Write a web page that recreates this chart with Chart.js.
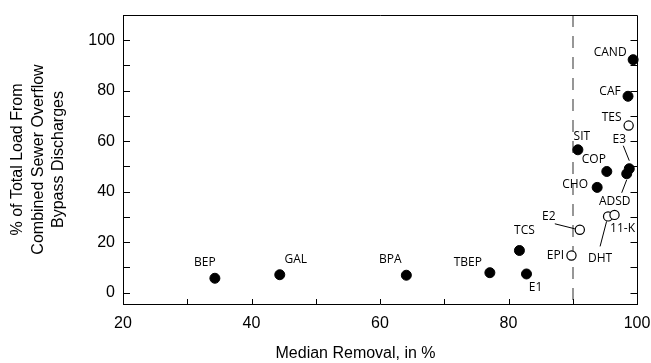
<!DOCTYPE html>
<html>
<head>
<meta charset="utf-8">
<script src="https://cdn.jsdelivr.net/npm/chart.js@4.4.1/dist/chart.umd.min.js"></script>
<style>
    html, body { margin: 0; padding: 0; background: #fff; }
    #wrap { width: 651px; height: 363px; }
</style>
</head>
<body>
<div id="wrap"><canvas id="csoChart"></canvas></div>
<script>
// filled symbols
const filledNames = ['BEP', 'GAL', 'BPA', 'TBEP', 'E1', 'TCS', 'CHO', 'COP', 'ADSD', 'E3', 'SIT', 'CAF', 'CAND'];
const filledRemoval = [34.3, 44.4, 64.1, 77.1, 82.8, 81.7, 93.8, 95.3, 98.4, 98.8, 90.8, 98.6, 99.4];
const filledLoad = [5.7, 7.1, 6.9, 7.9, 7.4, 16.7, 41.7, 48.0, 47.1, 49.1, 56.6, 77.8, 92.3];

// open symbols
const openNames = ['EPI', 'E2', 'DHT', '11-K', 'TES'];
const openRemoval = [89.8, 91.1, 95.5, 96.5, 98.7];
const openLoad = [14.7, 24.9, 30.2, 30.8, 66.2];

const xTicks = [20, 30, 40, 50, 60, 70, 80, 90, 100];
const yTicks = [0, 10, 20, 30, 40, 50, 60, 70, 80, 90, 100];
const refLine = 90;

// label placement (pixels from the point) and leader lines
const labelPos = {
    'BEP': [-10, -16], 'GAL': [16, -15], 'BPA': [-16, -16], 'TBEP': [-22, -10],
    'E1': [9, 14], 'TCS': [5, -20], 'CHO': [-22, -3], 'COP': [-13, -12],
    'ADSD': [-12, 28], 'E3': [-10, -29], 'SIT': [4, -13], 'CAF': [-18, -5],
    'CAND': [-23, -7], 'EPI': [-16, 0], 'E2': [-31, -13], 'DHT': [-8, 42],
    '11-K': [8, 14], 'TES': [-17, -8]
};
const leaders = {
    'E2': [-25, -6, -5, -1],
    'DHT': [-8, 30, -1.5, 5],
    'ADSD': [-5, 19, 0, 6],
    'E3': [-6, -23, 0, -8]
};

const toPoints = (xs, ys) => xs.map((x, i) => ({ x: x, y: ys[i] }));

const frame = {
    id: 'frame',
    beforeDatasetsDraw(chart) {
        const { ctx, chartArea: a, scales: { x } } = chart;
        const px = Math.round(x.getPixelForValue(refLine));
        ctx.save();
        ctx.strokeStyle = '#6b6b6b';
        ctx.lineWidth = 1.4;
        ctx.setLineDash([12, 9]);
        ctx.beginPath();
        ctx.moveTo(px, a.top);
        ctx.lineTo(px, a.bottom);
        ctx.stroke();
        ctx.restore();
    },
    afterDatasetsDraw(chart) {
        const { ctx, chartArea: a, scales: { x, y } } = chart;
        ctx.save();
        ctx.strokeStyle = '#000';
        ctx.lineWidth = 1;
        ctx.beginPath();
        // top and right edges
        const top = Math.round(a.top) + 0.5;
        const right = Math.round(a.right) + 0.5;
        ctx.moveTo(a.left, top);
        ctx.lineTo(right, top);
        ctx.lineTo(right, a.bottom);
        // inward ticks
        yTicks.forEach(v => {
            const py = Math.round(y.getPixelForValue(v)) + 0.5;
            ctx.moveTo(a.left, py);
            ctx.lineTo(a.left + 7, py);
            ctx.moveTo(right, py);
            ctx.lineTo(right - 7, py);
        });
        xTicks.forEach(v => {
            const px = Math.round(x.getPixelForValue(v)) + 0.5;
            ctx.moveTo(px, a.bottom);
            ctx.lineTo(px, a.bottom - 5);
        });
        ctx.stroke();

        // point labels
        ctx.font = '12px "Open Sans"';
        ctx.fillStyle = '#000';
        ctx.textAlign = 'center';
        ctx.textBaseline = 'middle';
        const sets = [filledNames, openNames];
        sets.forEach((names, d) => {
            chart.getDatasetMeta(d).data.forEach((pt, i) => {
                const name = names[i];
                const off = labelPos[name];
                ctx.fillText(name, pt.x + off[0], pt.y + off[1]);
                const ld = leaders[name];
                if (ld) {
                    ctx.beginPath();
                    ctx.moveTo(pt.x + ld[0], pt.y + ld[1]);
                    ctx.lineTo(pt.x + ld[2], pt.y + ld[3]);
                    ctx.stroke();
                }
            });
        });
        ctx.restore();
    }
};

new Chart(document.getElementById('csoChart'), {
    type: 'scatter',
    data: {
        datasets: [{
            data: toPoints(filledRemoval, filledLoad),
            backgroundColor: '#000',
            borderColor: '#000',
            borderWidth: 1,
            pointRadius: 5,
            clip: false
        }, {
            data: toPoints(openRemoval, openLoad),
            backgroundColor: '#fff',
            borderColor: '#000',
            borderWidth: 1.2,
            pointRadius: 4.6,
            clip: false
        }]
    },
    options: {
        responsive: true,
        maintainAspectRatio: false,
        animation: false,
        layout: { padding: { top: 15, right: 14, left: 0, bottom: 0 } },
        plugins: {
            legend: { display: false },
            tooltip: { enabled: false }
        },
        scales: {
            x: {
                type: 'linear',
                min: 20,
                max: 100,
                afterBuildTicks: s => { s.ticks = xTicks.map(v => ({ value: v })); },
                afterFit: s => { s.height = 59; s.paddingRight = 14; },
                grid: { drawOnChartArea: false, drawTicks: false },
                border: { color: '#000', width: 1 },
                ticks: {
                    color: '#000',
                    padding: 10,
                    maxRotation: 0,
                    autoSkip: false,
                    font: { family: '"Liberation Sans", Arial', size: 16 },
                    callback: v => v % 20 === 0 ? v : ''
                },
                title: {
                    display: true,
                    text: 'Median Removal, in %           ',
                    color: '#000',
                    padding: { top: 0, bottom: 0 },
                    font: { family: '"Liberation Sans", Arial', size: 16 }
                }
            },
            y: {
                min: -4.5,
                max: 110,
                afterBuildTicks: s => { s.ticks = yTicks.map(v => ({ value: v })); },
                afterFit: s => { s.width = 123; s.paddingTop = 15; },
                grid: { drawOnChartArea: false, drawTicks: false },
                border: { color: '#000', width: 1 },
                ticks: {
                    color: '#000',
                    padding: 8,
                    autoSkip: false,
                    font: { family: '"Liberation Sans", Arial', size: 16 },
                    callback: v => v % 20 === 0 ? v : ''
                },
                title: {
                    display: true,
                    text: ['% of Total Load From', 'Combined Sewer Overflow', 'Bypass Discharges'],
                    color: '#000',
                    padding: { top: 7, bottom: 0 },
                    font: { family: '"Liberation Sans", Arial', size: 16, lineHeight: 1.3 }
                }
            }
        }
    },
    plugins: [frame]
});
</script>
</body>
</html>
